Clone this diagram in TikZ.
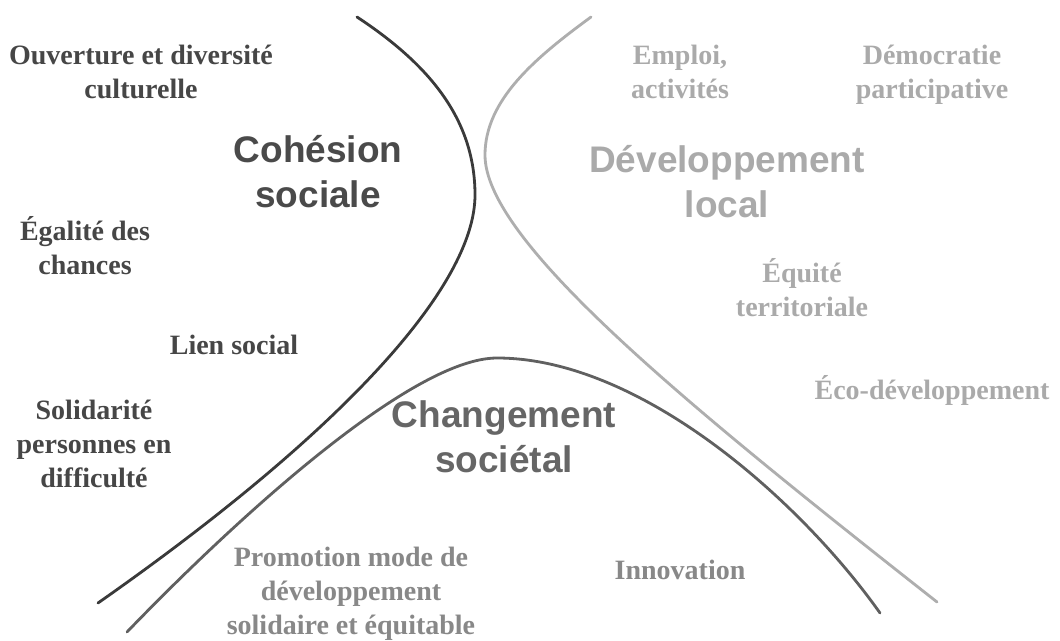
\documentclass[tikz,border=0pt]{standalone}
\usepackage{fontspec}
\setmainfont{Liberation Serif}
\newfontfamily\arialf{Liberation Sans}
\definecolor{cdark}{HTML}{3A3A3A}
\definecolor{cmed}{HTML}{606060}
\definecolor{clight}{HTML}{AEAEAE}
\definecolor{tleft}{HTML}{464646}
\definecolor{tcoh}{HTML}{4A4A4A}
\definecolor{tchg}{HTML}{666666}
\definecolor{tprom}{HTML}{888888}
\definecolor{tdev}{HTML}{AAAAAA}
\begin{document}
\begin{tikzpicture}[x=1pt,y=-1pt,
  lab/.style={font=\fontsize{28}{34}\selectfont\bfseries, align=center, inner sep=0pt},
  big/.style={font=\fontsize{37}{45}\selectfont\arialf\bfseries, align=center, inner sep=0pt},
  curve/.style={line width=2.8pt, line cap=round}]
\useasboundingbox[fill=white] (0,0) rectangle (1060,640);
% curves
\draw[curve, cdark] (357,17) .. controls (430,65) and (475,120) .. (475,195)
  .. controls (475,285) and (345,430) .. (98,603);
\draw[curve, clight] (591,17) .. controls (535,58) and (485,100) .. (485,155)
  .. controls (485,240) and (680,400) .. (937,602);
\draw[curve, cmed] (127,632) .. controls (230,525) and (410,358) .. (497,358)
  .. controls (640,358) and (800,500) .. (880,613);
% labels left
\node[lab, tleft] (ouv) at (141,72) {Ouverture et diversité\\culturelle};
\node[lab, tleft] (ega) at (85,246) {Égalité des\\chances};
\node[lab, tleft] (lien) at (234,345) {Lien social};
\node[lab, tleft] (sol) at (94,444) {Solidarité\\personnes en\\difficulté};
\node[big, tcoh] (coh) at (318,172) {Cohésion\\sociale};
% right
\node[lab, tdev] (emp) at (680,72) {Emploi,\\activités};
\node[lab, tdev] (dem) at (932,75) {Démocratie\\participative};
\node[big, tdev] (dev) at (727,182) {Développement\\local};
\node[lab, tdev] (equ) at (802,288) {Équité\\territoriale};
\node[lab, tdev] (eco) at (932,390) {Éco-développement};
% bottom
\node[big, tchg] (chg) at (504,437) {Changement\\sociétal};
\node[lab, tprom] (prom) at (351,594) {Promotion mode de\\développement\\solidaire et équitable};
\node[lab, tprom] (inno) at (680,570) {Innovation};
\end{tikzpicture}
\end{document}
